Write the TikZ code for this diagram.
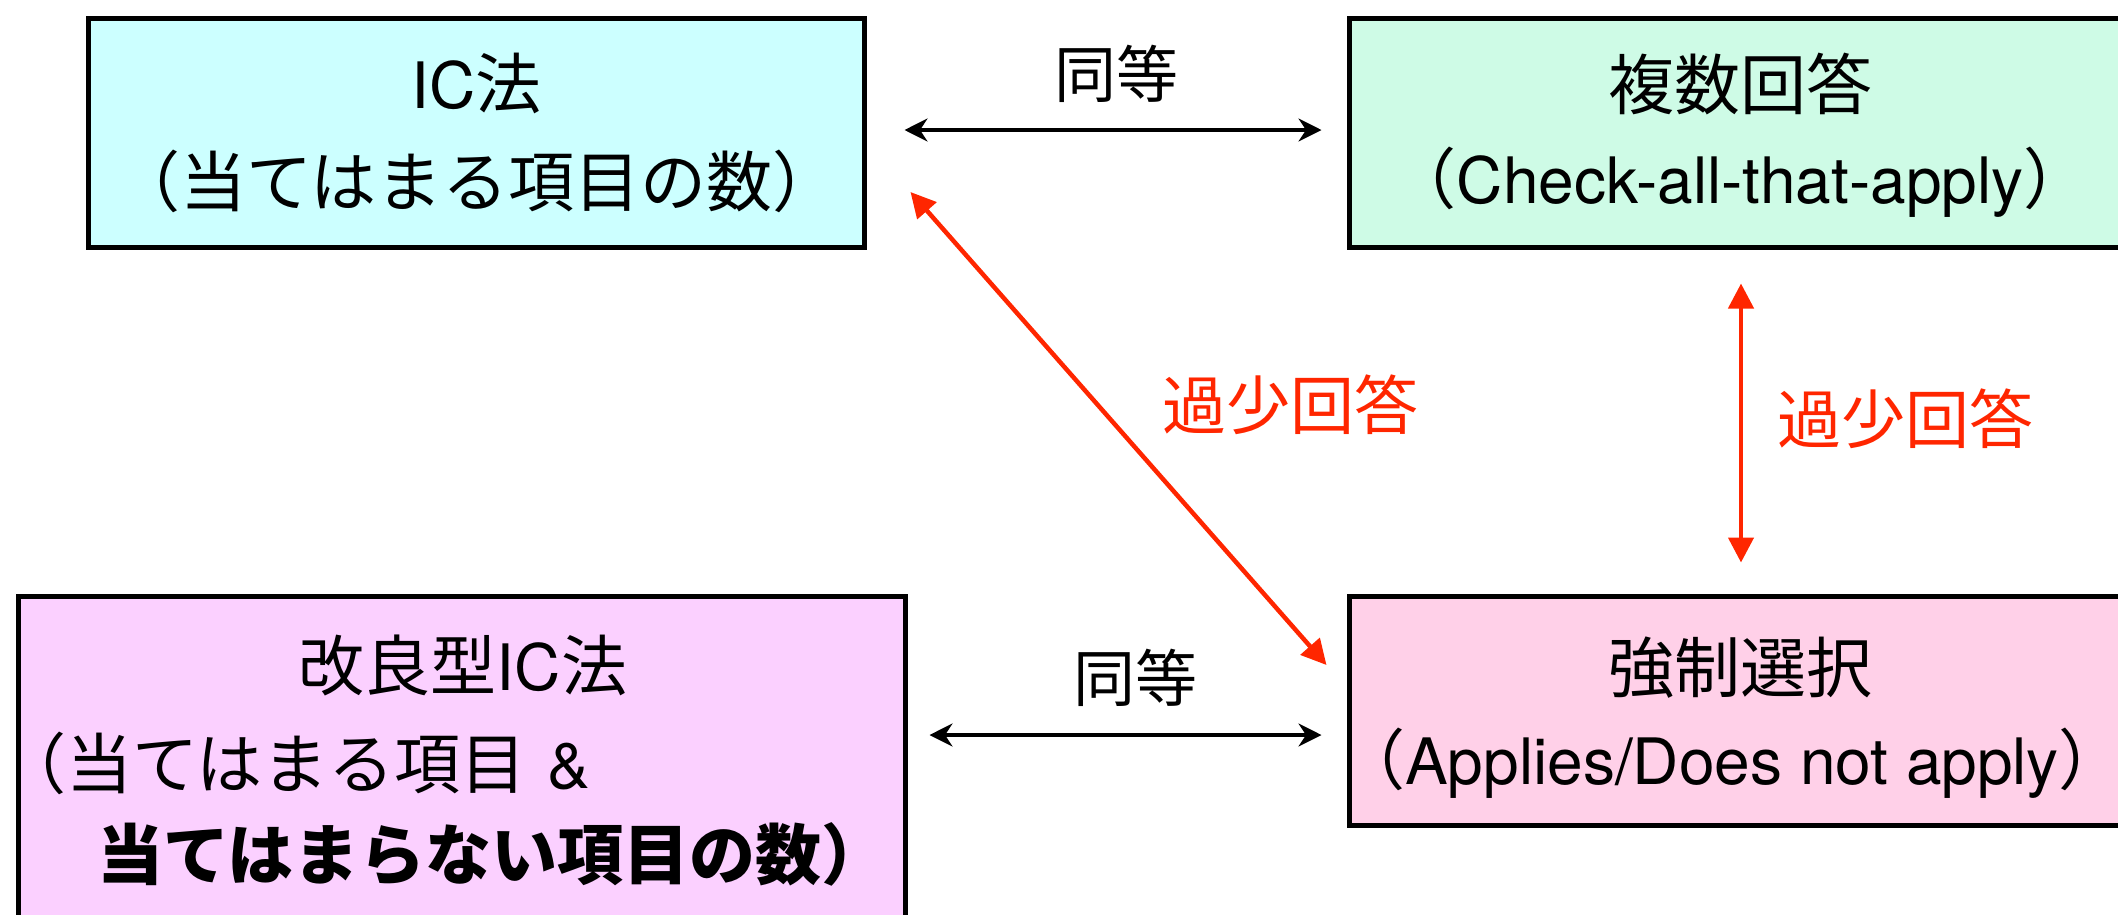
\documentclass[tikz,border=0pt]{standalone}
\usepackage{fontspec}
\setmainfont{Noto Sans CJK JP}
\newfontfamily\lat[Scale=0.97]{TeX Gyre Heros}
\usetikzlibrary{arrows.meta,calc}
\definecolor{fillA}{HTML}{CCFFFF}
\definecolor{fillB}{HTML}{CEFBE6}
\definecolor{fillC}{HTML}{FBD0FF}
\definecolor{fillD}{HTML}{FFD0E8}
\definecolor{redline}{HTML}{FF2600}
\tikzset{
  box/.style={draw=black, line width=5pt, rectangle, inner sep=0pt, align=center,
    font=\fontsize{66}{98}\selectfont},
  txt/.style={inner sep=0pt, font=\fontsize{66}{98}\selectfont},
  eqarrow/.style={line width=3.2pt, {Stealth[length=23pt,width=23pt]}-{Stealth[length=23pt,width=23pt]}},
  redarrow/.style={draw=redline, line width=4.5pt, {Triangle[length=25pt,width=25pt]}-{Triangle[length=25pt,width=25pt]}},
  eqlabel/.style={inner sep=0pt, font=\fontsize{62}{62}\selectfont},
  redlabel/.style={inner sep=0pt, text=redline, font=\fontsize{64}{64}\selectfont}
}
\begin{document}
\begin{tikzpicture}[x=1pt,y=-1pt]
\useasboundingbox (0,0) rectangle (2118,914);
\clip (0,0) rectangle (2118,914);
\node[box, fill=fillA, minimum width=776pt, minimum height=229pt] (b1) at (476.5,133)
  {{\lat IC}法\\（当てはまる項目の数）};
\node[box, fill=fillB, minimum width=781pt, minimum height=229pt] (b2) at (1740,133) {};
\node[txt] (b2l1) at (1740,84) {複数回答};
\node[txt] (b2l2) at (1740,182) {\hspace*{-0.4em}（{\lat Check-all-that-apply}）\hspace*{-0.4em}};
\node[box, fill=fillC, minimum width=887pt, minimum height=353pt] (b3) at (462,773) {};
\node[txt] (b3l1) at (463,665) {改良型{\lat IC}法};
\node[txt, anchor=west] (b3l2) at (0,763) {（当てはまる項目\hspace{6pt} {\lat \&}};
\node[txt, anchor=west] (b3l3) at (97,854) {\bfseries 当てはまらない項目の数）};
\node[box, fill=fillD, minimum width=781pt, minimum height=229pt] (b4) at (1740,711) {};
\node[txt] (b4l1) at (1740,668) {強制選択};
\node[txt] (b4l2) at (1732,763) {\hspace*{-0.4em}（{\lat Applies/Does not apply}）\hspace*{-0.4em}};

\draw[eqarrow] ($(b1.east)+(37.5,-3)$) -- ($(b2.west)+(-25.5,-3)$);
\node[eqlabel] (l1) at (1116,74) {同等};
\draw[eqarrow] ($(b3.east)+(21.5,-38)$) -- ($(b4.west)+(-25.5,24)$);
\node[eqlabel] (l2) at (1135,678) {同等};
\draw[redarrow] ($(b1.east)+(43.5,59)$) -- ($(b4.west)+(-20.5,-46)$);
\node[redlabel] (l3) at (1290,405) {過少回答};
\draw[redarrow] ($(b2.south)+(1,33.5)$) -- ($(b4.north)+(1,-31.5)$);
\node[redlabel] (l4) at (1905,419) {過少回答};
\end{tikzpicture}
\end{document}
